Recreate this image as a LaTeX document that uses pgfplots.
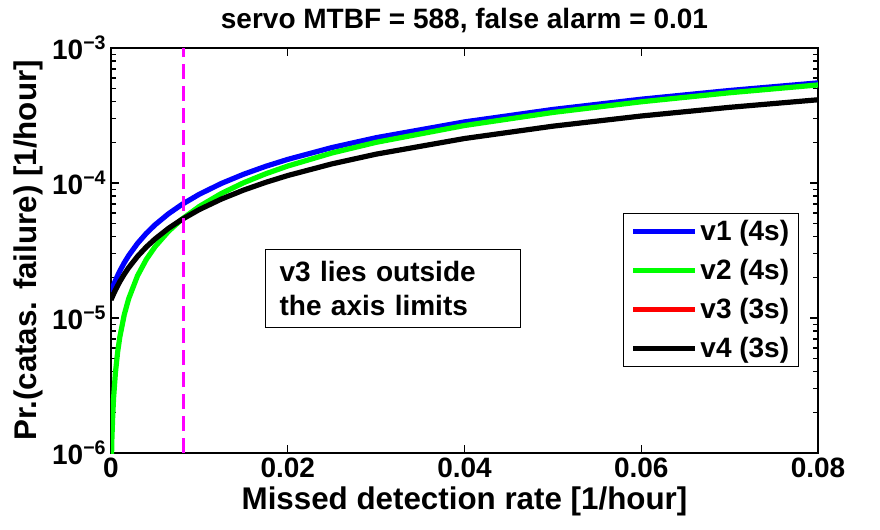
\documentclass[border=0pt]{standalone}
\usepackage{fontspec}
\setmainfont{Liberation Sans}
\usepackage{pgfplots}
\usepackage{pgfplotstable}
\pgfplotsset{compat=1.18}

\definecolor{mblue}{RGB}{0,0,255}
\definecolor{mgreen}{RGB}{0,255,0}
\definecolor{mred}{RGB}{255,0,0}
\definecolor{mmag}{RGB}{255,0,255}

% x = missed detection rate, v1 / v2 / v4 = Pr(catas. failure)
\pgfplotstableread{
x        v1         v2          v4
0        1.56e-5    6.0e-7      1.36e-5
0.0001   1.627e-5   1.265e-6    1.41e-5
0.0002   1.694e-5   1.93e-6     1.46e-5
0.0003   1.761e-5   2.595e-6    1.51e-5
0.0005   1.895e-5   3.925e-6    1.61e-5
0.00075  2.063e-5   5.588e-6    1.735e-5
0.001    2.23e-5    7.25e-6     1.86e-5
0.0015   2.565e-5   1.058e-5    2.11e-5
0.002    2.9e-5     1.39e-5     2.36e-5
0.003    3.57e-5    2.055e-5    2.86e-5
0.004    4.24e-5    2.72e-5     3.36e-5
0.005    4.91e-5    3.385e-5    3.86e-5
0.0065   5.915e-5   4.383e-5    4.61e-5
0.008    6.92e-5    5.38e-5     5.36e-5
0.01     8.26e-5    6.71e-5     6.36e-5
0.0125   9.935e-5   8.373e-5    7.61e-5
0.015    1.161e-4   1.004e-4    8.86e-5
0.0175   1.329e-4   1.170e-4    1.011e-4
0.02     1.496e-4   1.336e-4    1.136e-4
0.025    1.831e-4   1.669e-4    1.386e-4
0.03     2.166e-4   2.001e-4    1.636e-4
0.04     2.836e-4   2.666e-4    2.136e-4
0.05     3.506e-4   3.331e-4    2.636e-4
0.06     4.176e-4   3.996e-4    3.136e-4
0.07     4.846e-4   4.661e-4    3.636e-4
0.08     5.516e-4   5.326e-4    4.136e-4
}\failtable

\newcommand{\tickfont}{\fontsize{21}{25}\selectfont\bfseries}
\newcommand{\labfont}{\fontsize{23.5}{28}\selectfont\bfseries}

\begin{document}
\begin{tikzpicture}
\path[use as bounding box] (-83.25pt,-57pt) rectangle (576.75pt,339.75pt);
\begin{axis}[
    at={(0pt,0pt)}, anchor=south west,
    scale only axis,
    width=530.25pt, height=303.75pt,
    xmin=0, xmax=0.08,
    ymode=log, ymin=1e-6, ymax=1e-3,
    scaled x ticks=false,
    xtick={0,0.02,0.04,0.06,0.08},
    xticklabels={0,0.02,0.04,0.06,0.08},
    ytick={1e-6,1e-5,1e-4,1e-3},
    yticklabels={10\textsuperscript{−6},10\textsuperscript{−5},10\textsuperscript{−4},10\textsuperscript{−3}},
    minor ytick={2e-6,3e-6,4e-6,5e-6,6e-6,7e-6,8e-6,9e-6,
                 2e-5,3e-5,4e-5,5e-5,6e-5,7e-5,8e-5,9e-5,
                 2e-4,3e-4,4e-4,5e-4,6e-4,7e-4,8e-4,9e-4},
    tick align=inside,
    major tick length=6pt, minor tick length=3.4pt,
    every tick/.style={black, line width=0.9pt},
    axis line style={line width=1.2pt},
    ticklabel style={font=\tickfont},
    xlabel={Missed detection rate [1/hour]},
    ylabel={Pr.(catas. failure) [1/hour]},
    label style={font=\labfont},
    title={servo MTBF = 588, false alarm = 0.01},
    title style={font=\tickfont, yshift=2pt},
    legend style={at={(0.9731,0.5926)}, anchor=north east,
                  draw=black, line width=0.75pt,
                  font=\tickfont, row sep=8.6pt,
                  inner xsep=5pt, inner ysep=3pt},
    legend cell align=left,
    legend image code/.code={\draw[#1] (0pt,0pt) -- (46.5pt,0pt);},
]
\addplot[mblue, line width=3.9pt] table[x=x, y=v1] {\failtable};
\addlegendentry{v1 (4s)}
\addplot[mgreen, line width=3.9pt] table[x=x, y=v2] {\failtable};
\addlegendentry{v2 (4s)}
\addlegendimage{mred, line width=3.9pt}
\addlegendentry{v3 (3s)}
\addplot[black, line width=3.9pt] table[x=x, y=v4] {\failtable};
\addlegendentry{v4 (3s)}
\addplot[mmag, line width=2.25pt, dash pattern=on 11pt off 5.5pt, forget plot]
    coordinates {(0.00815,1e-6) (0.00815,1e-3)};
\node[draw=black, line width=0.75pt, fill=white, anchor=north west,
      align=left, text width=170pt, inner xsep=10.6pt, minimum height=58.5pt,
      font=\tickfont] at (rel axis cs:0.2178,0.5037)
      {v3 lies outside\\the axis limits};
\end{axis}
\end{tikzpicture}
\end{document}
